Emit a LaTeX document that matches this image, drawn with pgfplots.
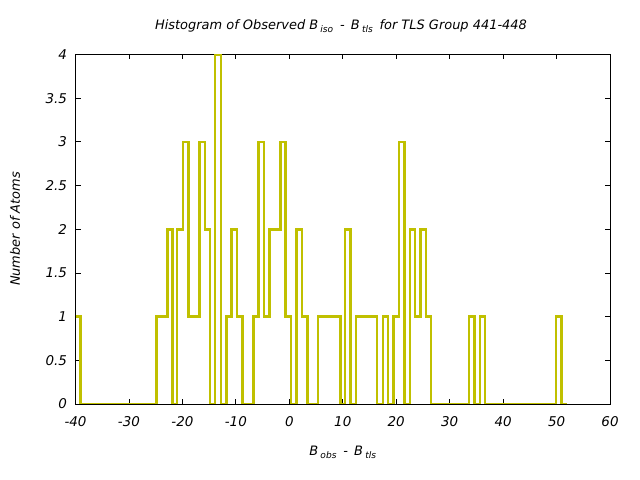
\documentclass[border=0pt]{standalone}
\usepackage{pgfplots}
\pgfplotsset{compat=1.18}
\usepackage{fontspec}
\setmainfont{DejaVu Sans}
\definecolor{histc}{RGB}{192,192,0}
\begin{document}
\begin{tikzpicture}[x=1bp,y=1bp,font=\fontsize{13}{15}\selectfont\itshape]
\path[use as bounding box] (-75.5,-76) rectangle (564.5,404);
\begin{axis}[
  scale only axis, width=534.5bp, height=349.5bp,
  xmin=-40, xmax=60, ymin=0, ymax=4,
  xtick={-40,-30,...,60},
  xticklabels={-40,-30,-20,-10,0,10,20,30,40,50,60},
  ytick={0,0.5,...,4},
  yticklabels={0,0.5,1,1.5,2,2.5,3,3.5,4},
  tick align=inside, major tick length=5bp,
  tick style={black, line width=0.8pt},
  axis line style={black, line width=0.8pt},
  xticklabel style={yshift=-9bp, font=\fontsize{13.5}{15}\selectfont\itshape},
  yticklabel style={xshift=-5bp, font=\fontsize{13.5}{15}\selectfont\itshape},
  clip=true,
]
\addplot[const plot, color=histc, line width=2.6bp] coordinates {
(-40,1) (-39.1,0) (-24.9,1) (-22.8,2) (-21.9,0) (-21.0,2) (-19.9,3) (-18.9,1)
(-16.8,3) (-15.8,2) (-14.8,0) (-13.9,4) (-12.8,0) (-11.7,1) (-10.8,2) (-9.8,1)
(-8.8,0) (-6.7,1) (-5.8,3) (-4.7,1) (-3.7,2) (-1.7,3) (-0.7,1) (0.3,0)
(1.3,2) (2.4,1) (3.4,0) (5.4,1) (9.6,0) (10.4,2) (11.4,0) (12.5,1)
(16.4,0) (17.5,1) (18.5,0) (19.5,1) (20.5,3) (21.5,0) (22.6,2) (23.5,1)
(24.6,2) (25.6,1) (26.5,0) (33.6,1) (34.7,0) (35.7,1) (36.6,0) (49.9,1)
(50.9,0) (52.0,0)
};
\end{axis}
\node at (265.5,378) {Histogram of Observed B\,\textsubscript{iso} \,-\, B\,\textsubscript{tls}\, for TLS Group 441-448};
\node at (267.5,-48) {B\,\textsubscript{obs} \,-\, B\,\textsubscript{tls}};
\node[rotate=90] at (-60.5,175) {Number of Atoms};
\end{tikzpicture}
\end{document}
